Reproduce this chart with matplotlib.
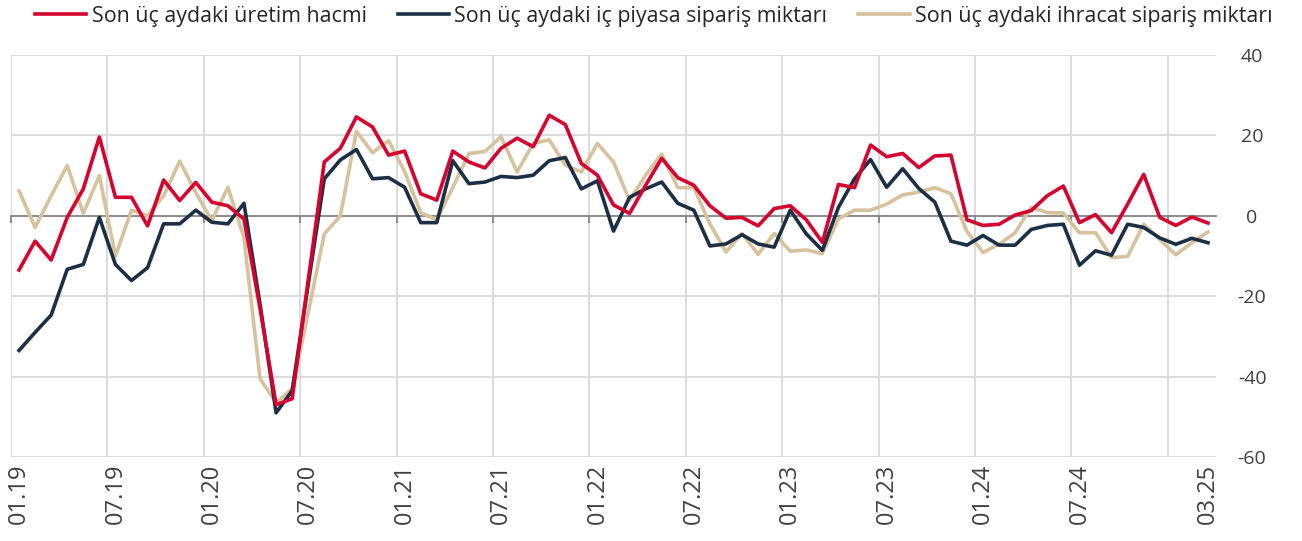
import matplotlib
matplotlib.use("Agg")
import matplotlib.pyplot as plt
import numpy as np

plt.rcParams['font.family'] = ['Open Sans', 'DejaVu Sans']

tick_labels = ["01.19", "07.19", "01.20", "07.20", "01.21", "07.21", "01.22",
               "07.22", "01.23", "07.23", "01.24", "07.24", "03.25"]
tick_index = [0, 6, 12, 18, 24, 30, 36, 42, 48, 54, 60, 66, 74]

uretim = [-13.5, -6.3, -11, -0.4, 6.7, 19.6, 4.6, 4.6, -2.5, 8.9, 3.8, 8.3,
          3.4, 2.5, -0.8, -23, -47, -45.5, -16, 13.4, 16.8, 24.6, 22.1, 15.1,
          16.1, 5.5, 3.9, 16.1, 13.4, 11.9, 16.8, 19.3, 17.2, 25, 22.7, 13,
          10.1, 2.7, 0.6, 7.6, 14.3, 9.5, 7.6, 2.5, -0.6, -0.4, -2.5, 1.8,
          2.5, -1, -6.6, 7.8, 7, 17.6, 14.7, 15.5, 12, 14.9, 15.1, -1,
          -2.4, -2.1, 0.2, 1.3, 5, 7.4, -1.7, 0.3, -4.2, 2.9, 10.3, -0.4,
          -2.4, -0.3, -1.8]
ic_piyasa = [-33.5, -29, -24.7, -13.3, -12.1, -0.4, -12.1, -16.1, -12.9, -2, -2, 1.4,
             -1.6, -2, 3.1, -22, -49, -43.5, -17, 9.2, 13.9, 16.5, 9.2, 9.5,
             7.1, -1.7, -1.7, 13.7, 8, 8.4, 9.8, 9.5, 10.1, 13.7, 14.5, 6.7,
             8.7, -3.8, 4.6, 6.7, 8.4, 3.1, 1.4, -7.5, -7, -4.7, -7, -7.8,
             1.4, -4.5, -8.6, 2.1, 9.2, 14, 7.1, 11.7, 6.8, 3.4, -6.3, -7.3,
             -4.9, -7.3, -7.3, -3.4, -2.4, -2.1, -12.3, -8.7, -9.8, -2.1, -2.9, -5.5,
             -7.1, -5.6, -6.7]
ihracat = [6.2, -2.9, 5, 12.5, 0.6, 10, -10, 1.4, 0, 5, 13.6, 5.8,
           -1.2, 7.1, -5.4, -40.5, -46.5, -43, -24, -4.5, 0, 21, 15.7, 18.7,
           11, 0.8, -1, 7.1, 15.5, 16, 19.7, 10.9, 18, 18.9, 12.6, 10.9,
           18, 13.4, 3.8, 10.1, 15.4, 7, 7, -2, -9, -4.4, -9.6, -4.4,
           -8.8, -8.5, -9.4, -0.8, 1.4, 1.4, 2.9, 5.2, 5.9, 7, 5.5, -3.9,
           -9.1, -7.1, -4.2, 2.1, 0.8, 0.7, -4.2, -4.2, -10.4, -10.1, -2.1, -5.9,
           -9.7, -6.7, -4]

series_names = ["Son üç aydaki üretim hacmi",
                "Son üç aydaki iç piyasa sipariş miktarı",
                "Son üç aydaki ihracat sipariş miktarı"]
colors = ["#d6002e", "#1c2f45", "#d6c29c"]

fig = plt.figure(figsize=(13.02, 5.41), dpi=100)
pos = [11/1302, 84/541, 1205/1302, 402/541]
n = len(uretim)
x = np.arange(n)
xlim = (-0.5, n - 0.5)
ylim = (-60, 40)

# background grid
axg = fig.add_axes(pos, zorder=0)
axg.set_xlim(*xlim)
axg.set_ylim(*ylim)
axg.set_xticks(np.arange(-0.5, n - 1, 6))
axg.set_yticks([-60, -40, -20, 0, 20, 40])
axg.grid(True, color="#d9d9d9", lw=1.3)
axg.tick_params(length=0, labelbottom=False, labelleft=False)
for s in axg.spines.values():
    s.set_visible(False)

# zero axis with small ticks at the vertical gridlines
ax0 = fig.add_axes(pos, zorder=0.5)
ax0.set_xlim(*xlim)
ax0.set_ylim(*ylim)
ax0.patch.set_visible(False)
for k in ['top', 'left', 'right']:
    ax0.spines[k].set_visible(False)
ax0.spines['bottom'].set_position(('data', 0))
ax0.spines['bottom'].set_color("#868686")
ax0.spines['bottom'].set_linewidth(1.3)
ax0.set_xticks(np.arange(-0.5, n, 6))
ax0.set_xticklabels([])
ax0.set_yticks([])
ax0.tick_params(axis='x', length=5, width=1.3, color="#868686", direction='out')

# data axes
ax = fig.add_axes(pos, zorder=1)
ax.patch.set_visible(False)
lw = 2.6
ax.plot(x, ihracat, color=colors[2], lw=lw, label=series_names[2], zorder=3)
ax.plot(x, ic_piyasa, color=colors[1], lw=lw, label=series_names[1], zorder=4)
ax.plot(x, uretim, color=colors[0], lw=lw, label=series_names[0], zorder=5)
ax.set_xlim(*xlim)
ax.set_ylim(*ylim)

ax.set_xticks(tick_index)
ax.set_xticklabels(tick_labels, rotation=90, fontsize=17, color="#404040")
ax.tick_params(axis='x', which='both', length=0, pad=5)

ax.set_yticks([-60, -40, -20, 0, 20, 40])
ax.set_yticklabels(["-60", "-40", "-20", "0", "20", "40"])
ax.yaxis.tick_right()
ax.tick_params(axis='y', length=0, pad=26, labelsize=14, labelcolor="#404040")
for lab in ax.get_yticklabels():
    lab.set_horizontalalignment('center')
for s in ax.spines.values():
    s.set_visible(False)

handles, labels = ax.get_legend_handles_labels()
order = [2, 1, 0]
fig.legend([handles[i] for i in order], [labels[i] for i in order],
           loc='upper left', bbox_to_anchor=(0.012, 1.025), ncol=3, frameon=False,
           fontsize=15.4, handlelength=2.4, handletextpad=0.25, columnspacing=1.45,
           labelcolor="#262626")

fig.savefig("out.png", dpi=100)
